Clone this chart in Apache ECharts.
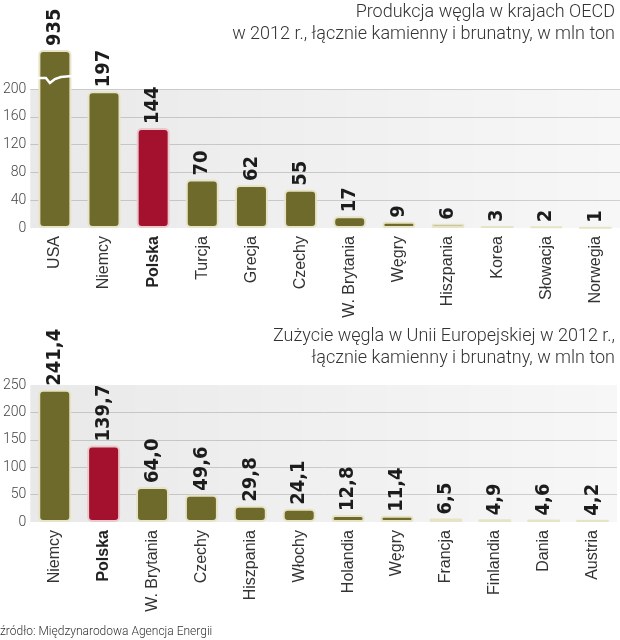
<!DOCTYPE html>
<html>
<head>
<meta charset="utf-8">
<script src="https://cdn.jsdelivr.net/npm/echarts@6/dist/echarts.min.js"></script>
<style>
html,body{margin:0;padding:0;background:#fff;}
#c{width:620px;height:640px;}
</style>
</head>
<body>
<div id="c"></div>
<script>
const oecdCategories = ['USA','Niemcy','Polska','Turcja','Grecja','Czechy','W. Brytania','Węgry','Hiszpania','Korea','Słowacja','Norwegia'];
const oecdValues = [935,197,144,70,62,55,17,9,6,3,2,1];
const euCategories = ['Niemcy','Polska','W. Brytania','Czechy','Hiszpania','Włochy','Holandia','Węgry','Francja','Finlandia','Dania','Austria'];
const euValues = [241.4,139.7,64.0,49.6,29.8,24.1,12.8,11.4,6.5,4.9,4.6,4.2];
const highlighted = 'Polska';
const oecdTickStep = 40, oecdTickTop = 200;
const euTickStep = 50, euTickTop = 250;
const oecdTitle = 'Produkcja węgla w krajach OECD\nw 2012 r., łącznie kamienny i brunatny, w mln ton';
const euTitle = 'Zużycie węgla w Unii Europejskiej w 2012 r.,\nłącznie kamienny i brunatny, w mln ton';
const sourceText = 'źródło: Międzynarodowa Agencja Energii';

const OLIVE = '#6d6a2b', RED = '#a3112f';
const NARROW = '"Liberation Sans Narrow","DejaVu Sans Condensed","Roboto",sans-serif';
const SANS = '"Liberation Sans","Roboto",sans-serif';
const TITLEFONT = '"Roboto","Liberation Sans",sans-serif';

function items(cats, vals){
  return vals.map((v,i)=>({
    value:v,
    itemStyle: cats[i]===highlighted ? {color:RED, borderColor:'#eac9cc'} : {}
  }));
}
function catLabel(){
  return {
    rotate:90, interval:0, margin:8, fontSize:16, color:'#333', fontFamily:SANS,
    formatter: n => n===highlighted ? '{b|'+n+'}' : n,
    rich:{b:{fontWeight:'bold', fontSize:16, color:'#222', fontFamily:SANS}}
  };
}
function valueLabel(fmt){
  return {
    show:true, position:'top', rotate:90, align:'left', verticalAlign:'middle',
    distance:4, fontFamily:NARROW, fontWeight:'bold', fontSize:20, color:'#1c1c1c',
    formatter: fmt
  };
}
const panelColor = {type:'linear', x:0, y:0, x2:1, y2:0,
  colorStops:[{offset:0,color:'rgba(0,0,0,0.085)'},{offset:1,color:'rgba(0,0,0,0.03)'}]};
function gridColors(n){ const a=['transparent']; for(let i=0;i<n;i++) a.push('#d6d6d6'); a.push('transparent','transparent'); return a; }
function titleText(text, top){
  return {type:'text', right:5, top:top, z:50, silent:true,
    style:{text:text, textAlign:'right', font:'300 18px '+TITLEFONT, lineHeight:22, fill:'#333'}};
}
const yLabel = {margin:4, fontSize:14, fontWeight:300, color:'#444', fontFamily:TITLEFONT};

const chart = echarts.init(document.getElementById('c'));
chart.setOption({
  animation:false,
  grid:[
    {left:30, width:590, top:51, height:177},
    {left:26, width:591, top:385, height:137}
  ],
  xAxis:[
    {type:'category', gridIndex:0, data:oecdCategories, axisLine:{show:false}, axisTick:{show:false}, axisLabel:catLabel()},
    {type:'category', gridIndex:1, data:euCategories, axisLine:{show:false}, axisTick:{show:false}, axisLabel:catLabel()}
  ],
  yAxis:[
    {type:'value', gridIndex:0, min:0, max:255, interval:oecdTickStep,
     axisLabel:Object.assign({}, yLabel, {formatter:v=> v<=oecdTickTop ? String(v) : ''}),
     splitLine:{lineStyle:{color:gridColors(oecdTickTop/oecdTickStep), width:1}}},
    {type:'value', gridIndex:1, min:0, max:euTickTop, interval:euTickStep,
     axisLabel:yLabel,
     splitLine:{lineStyle:{color:gridColors(euTickTop/euTickStep - 1), width:1}}}
  ],
  series:[
    {type:'bar', xAxisIndex:0, yAxisIndex:0, data:items(oecdCategories, oecdValues), barWidth:33, clip:true,
     itemStyle:{color:OLIVE, borderColor:'#e7e3c6', borderWidth:2, borderRadius:4},
     label:valueLabel(p=>String(p.value)),
     markArea:{silent:true, itemStyle:{color:panelColor}, data:[[{yAxis:0},{yAxis:oecdTickTop}]]}},
    {type:'bar', xAxisIndex:1, yAxisIndex:1, data:items(euCategories, euValues), barWidth:33,
     itemStyle:{color:OLIVE, borderColor:'#e7e3c6', borderWidth:2, borderRadius:4},
     label:valueLabel(p=>p.value.toFixed(1).replace('.',',')),
     markArea:{silent:true, itemStyle:{color:panelColor}, data:[[{yAxis:0},{yAxis:euTickTop}]]}}
  ]
});
const graphics = [
  titleText(oecdTitle, 1),
  titleText(euTitle, 325),
  {type:'text', left:0, bottom:2, silent:true,
   style:{text:sourceText, font:'300 12px '+TITLEFONT, fill:'#333'}}
];
// break mark on the clipped USA bar
const p = chart.convertToPixel({seriesIndex:0}, [oecdCategories[0], 216]);
if (p) {
  const x=p[0], y=p[1];
  graphics.push({type:'polyline', z:100, silent:true,
    shape:{points:[[x-17,y],[x-9,y],[x-5,y+5],[x,y+1],[x+6,y-1],[x+17,y-2]]},
    style:{stroke:'#fff', lineWidth:2.5, fill:null}});
}
chart.setOption({graphic:graphics});
</script>
</body>
</html>
